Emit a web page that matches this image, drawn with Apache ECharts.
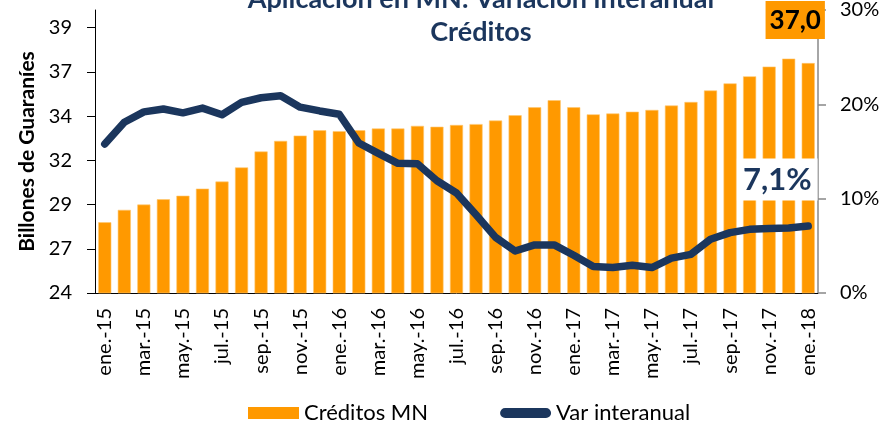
<!DOCTYPE html>
<html>
<head>
<meta charset="utf-8">
<script src="https://cdn.jsdelivr.net/npm/echarts@6/dist/echarts.min.js"></script>
<style>
  html, body { margin: 0; padding: 0; background: #fff; }
  #chart { width: 894px; height: 423px; }
</style>
</head>
<body>
<div id="chart"></div>
<script>
// meses ene.-15 .. ene.-18
var meses = [
  'ene.-15','feb.-15','mar.-15','abr.-15','may.-15','jun.-15','jul.-15','ago.-15','sep.-15','oct.-15','nov.-15','dic.-15',
  'ene.-16','feb.-16','mar.-16','abr.-16','may.-16','jun.-16','jul.-16','ago.-16','sep.-16','oct.-16','nov.-16','dic.-16',
  'ene.-17','feb.-17','mar.-17','abr.-17','may.-17','jun.-17','jul.-17','ago.-17','sep.-17','oct.-17','nov.-17','dic.-17',
  'ene.-18'
];

// Créditos MN (billones de Gs.)
var creditos = [
  28.0, 28.7, 29.0, 29.3, 29.5, 29.9, 30.3, 31.1, 32.0, 32.6, 32.9, 33.2,
  33.15, 33.2, 33.3, 33.3, 33.45, 33.4, 33.5, 33.55, 33.75, 34.05, 34.5, 34.9,
  34.5, 34.1, 34.15, 34.25, 34.35, 34.6, 34.8, 35.45, 35.85, 36.25, 36.8, 37.25,
  37.0
];

// Var interanual (%)
var variacion = [
  15.8, 18.1, 19.2, 19.5, 19.1, 19.6, 18.9, 20.2, 20.7, 20.9, 19.7, 19.3,
  18.95, 15.9, 14.8, 13.75, 13.7, 11.9, 10.6, 8.3, 5.9, 4.45, 5.1, 5.1,
  4.0, 2.8, 2.7, 2.95, 2.7, 3.7, 4.1, 5.7, 6.4, 6.75, 6.85, 6.9,
  7.1
];

var ticksIzq = [24, 26.5, 29, 31.5, 34, 36.5, 39];

var naranja = '#FF9900';
var azul = '#1B365D';
var fuente = 'Lato';

var chart = echarts.init(document.getElementById('chart'));

var barData = creditos.map(function (v, i) {
  if (i === creditos.length - 1) {
    return {
      value: v,
      label: {
        show: true,
        position: 'top',
        distance: 24,
        offset: [-13, 0],
        formatter: function (p) { return p.value.toFixed(1).replace('.', ','); },
        backgroundColor: naranja,
        color: '#000',
        fontFamily: fuente,
        fontWeight: 'bold',
        fontSize: 26,
        padding: [7, 4, 5, 4]
      }
    };
  }
  return v;
});

var lineData = variacion.map(function (v, i) {
  if (i === variacion.length - 1) {
    return {
      value: v,
      label: {
        show: true,
        position: 'top',
        distance: 25,
        offset: [-31, 0],
        formatter: function (p) { return p.value.toFixed(1).replace('.', ',') + '%'; },
        backgroundColor: '#fff',
        color: azul,
        fontFamily: fuente,
        fontWeight: 'bold',
        fontSize: 31,
        padding: [6, 6, 5, 6]
      }
    };
  }
  return v;
});

var option = {
  backgroundColor: '#fff',
  animation: false,
  title: {
    text: 'Aplicación en MN: Variación interanual\nCréditos',
    left: 476,
    top: -22,
    textAlign: 'center',
    textStyle: {
      color: azul,
      fontFamily: fuente,
      fontWeight: 'bold',
      fontSize: 27,
      lineHeight: 33
    }
  },
  grid: { left: 95, right: 76, top: 10, bottom: 130 },
  legend: {
    left: 243,
    top: 397,
    itemGap: 72,
    itemWidth: 51,
    itemHeight: 12,
    textStyle: { fontFamily: fuente, fontSize: 22, color: '#000' },
    data: [
      { name: 'Créditos MN', icon: 'rect', itemStyle: { color: naranja, borderColor: naranja, borderWidth: 0 } },
      { name: 'Var interanual', icon: 'path://M6,0 L54,0 A6,6 0 0 1 54,12 L6,12 A6,6 0 0 1 6,0 Z' }
    ]
  },
  xAxis: {
    type: 'category',
    data: meses,
    boundaryGap: true,
    axisLine: { lineStyle: { color: '#000', width: 1 } },
    axisTick: { interval: 1, length: 7, lineStyle: { color: '#000' } },
    axisLabel: {
      interval: 1,
      rotate: 90,
      margin: 15,
      color: '#000',
      fontFamily: fuente,
      fontSize: 20
    }
  },
  yAxis: [
    {
      type: 'value',
      min: 24,
      max: 40,
      name: 'Billones de Guaraníes',
      nameLocation: 'middle',
      nameGap: 57,
      nameTextStyle: { fontFamily: fuente, fontWeight: 'bold', fontSize: 21, color: '#000' },
      axisLine: { show: true, lineStyle: { color: '#000' } },
      axisTick: { show: true, length: 8, customValues: ticksIzq, lineStyle: { color: '#000' } },
      axisLabel: {
        customValues: ticksIzq,
        margin: 23,
        color: '#000',
        fontFamily: fuente,
        fontSize: 20,
        formatter: function (v) { return Math.round(v); }
      },
      splitLine: { show: false }
    },
    {
      type: 'value',
      min: 0,
      max: 30,
      interval: 10,
      position: 'right',
      axisLine: { show: true, lineStyle: { color: '#888', width: 1.5 } },
      axisTick: { show: true, length: 8, lineStyle: { color: '#888', width: 1.5 } },
      axisLabel: {
        margin: 22,
        color: '#000',
        fontFamily: fuente,
        fontSize: 20,
        formatter: '{value}%'
      },
      splitLine: { show: false }
    }
  ],
  series: [
    {
      name: 'Créditos MN',
      type: 'bar',
      yAxisIndex: 0,
      data: barData,
      barCategoryGap: '33%',
      itemStyle: { color: naranja, borderColor: '#FFC870', borderWidth: 0.6 }
    },
    {
      name: 'Var interanual',
      type: 'line',
      yAxisIndex: 1,
      data: lineData,
      symbol: 'circle',
      symbolSize: 1,
      showSymbol: true,
      itemStyle: { color: azul },
      lineStyle: { color: azul, width: 7.5, cap: 'round', join: 'round' },
      z: 5
    }
  ]
};

chart.setOption(option);
</script>
</body>
</html>
